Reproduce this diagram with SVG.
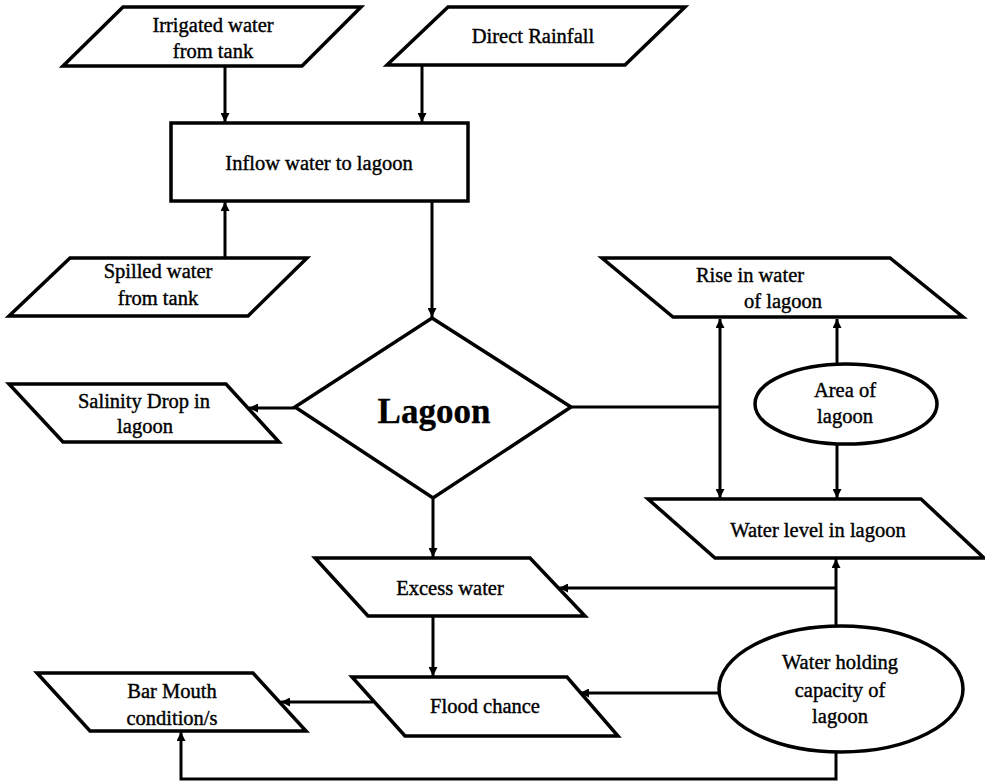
<svg xmlns="http://www.w3.org/2000/svg" width="985" height="783" viewBox="0 0 985 783">
<style>
  .shape { fill: #fff; stroke: #000; stroke-width: 3.5; stroke-linejoin: miter; }
  .conn { fill: none; stroke: #000; stroke-width: 3; }
  text { font-family: "Liberation Serif", "Times New Roman", serif; font-size: 20.5px; fill: #000; text-anchor: middle; stroke: #000; stroke-width: 0.4; }
  .big { font-size: 35px; font-weight: bold; stroke-width: 0.3; }
</style>
<defs>
  <marker id="arr" viewBox="0 0 10 10" refX="10" refY="5" markerWidth="3.2" markerHeight="3" orient="auto-start-reverse" markerUnits="strokeWidth">
    <path d="M0,0 L10,5 L0,10 Z" fill="#000"/>
  </marker>
</defs>
<rect width="985" height="783" fill="#fff"/>

<g id="connectors">
  <line class="conn" x1="225" y1="66" x2="225" y2="122" marker-end="url(#arr)"/>
  <line class="conn" x1="422" y1="66" x2="422" y2="122" marker-end="url(#arr)"/>
  <line class="conn" x1="225" y1="258" x2="225" y2="202" marker-end="url(#arr)"/>
  <line class="conn" x1="432" y1="201" x2="432" y2="317" marker-end="url(#arr)"/>
  <line class="conn" x1="295" y1="408" x2="249" y2="408" marker-end="url(#arr)"/>
  <line class="conn" x1="571" y1="407" x2="720" y2="407"/>
  <line class="conn" x1="720" y1="319" x2="720" y2="498" marker-start="url(#arr)" marker-end="url(#arr)"/>
  <line class="conn" x1="837" y1="363" x2="837" y2="319" marker-end="url(#arr)"/>
  <line class="conn" x1="837" y1="445" x2="837" y2="498" marker-end="url(#arr)"/>
  <line class="conn" x1="433" y1="499" x2="433" y2="557" marker-end="url(#arr)"/>
  <line class="conn" x1="433" y1="616" x2="433" y2="676" marker-end="url(#arr)"/>
  <line class="conn" x1="836" y1="626" x2="836" y2="559" marker-end="url(#arr)"/>
  <line class="conn" x1="836" y1="588" x2="559" y2="588" marker-end="url(#arr)"/>
  <line class="conn" x1="719" y1="693" x2="580" y2="693" marker-end="url(#arr)"/>
  <line class="conn" x1="373" y1="702" x2="281" y2="702" marker-end="url(#arr)"/>
  <polyline class="conn" points="836,752 836,779 181,779 181,732" marker-end="url(#arr)"/>
</g>

<g id="irrigated">
  <polygon class="shape" points="123,7 361,7 302,66 63,66"/>
  <text x="213" y="32">Irrigated water</text>
  <text x="213" y="58">from tank</text>
</g>
<g id="rainfall">
  <polygon class="shape" points="448,7 685,7 625,65 387,65"/>
  <text x="533" y="43">Direct Rainfall</text>
</g>
<g id="inflow">
  <rect class="shape" x="171" y="123" width="297" height="78"/>
  <text x="319" y="170">Inflow water to lagoon</text>
</g>
<g id="spilled">
  <polygon class="shape" points="70,258 307,258 248,316 9,316"/>
  <text x="158" y="278">Spilled water</text>
  <text x="158" y="305">from tank</text>
</g>
<g id="lagoon">
  <polygon class="shape" points="432,318 571,407 433,498 295,407"/>
  <text class="big" x="434" y="423">Lagoon</text>
</g>
<g id="salinity">
  <polygon class="shape" points="9,384 226,384 279,442 63,442"/>
  <text x="144" y="408">Salinity Drop in</text>
  <text x="145" y="433">lagoon</text>
</g>
<g id="rise">
  <polygon class="shape" points="602,258 890,258 963,317 673,317"/>
  <text x="750" y="282">Rise in water</text>
  <text x="783" y="308">of lagoon</text>
</g>
<g id="area">
  <ellipse class="shape" cx="846" cy="404" rx="91" ry="40"/>
  <text x="845" y="397">Area of</text>
  <text x="845" y="423">lagoon</text>
</g>
<g id="waterlevel">
  <polygon class="shape" points="648,499 921,499 984,558 715,558"/>
  <text x="818" y="537">Water level in lagoon</text>
</g>
<g id="excess">
  <polygon class="shape" points="315,558 530,558 585,616 368,616"/>
  <text x="450" y="595">Excess water</text>
</g>
<g id="flood">
  <polygon class="shape" points="352,677 567,677 618,736 405,736"/>
  <text x="485" y="713">Flood chance</text>
</g>
<g id="barmouth">
  <polygon class="shape" points="37,673 253,673 306,731 90,731"/>
  <text x="172" y="698">Bar Mouth</text>
  <text x="172" y="725">condition/s</text>
</g>
<g id="holding">
  <ellipse class="shape" cx="841" cy="689" rx="122" ry="63"/>
  <text x="840" y="669">Water holding</text>
  <text x="840" y="697">capacity of</text>
  <text x="840" y="723">lagoon</text>
</g>
</svg>
